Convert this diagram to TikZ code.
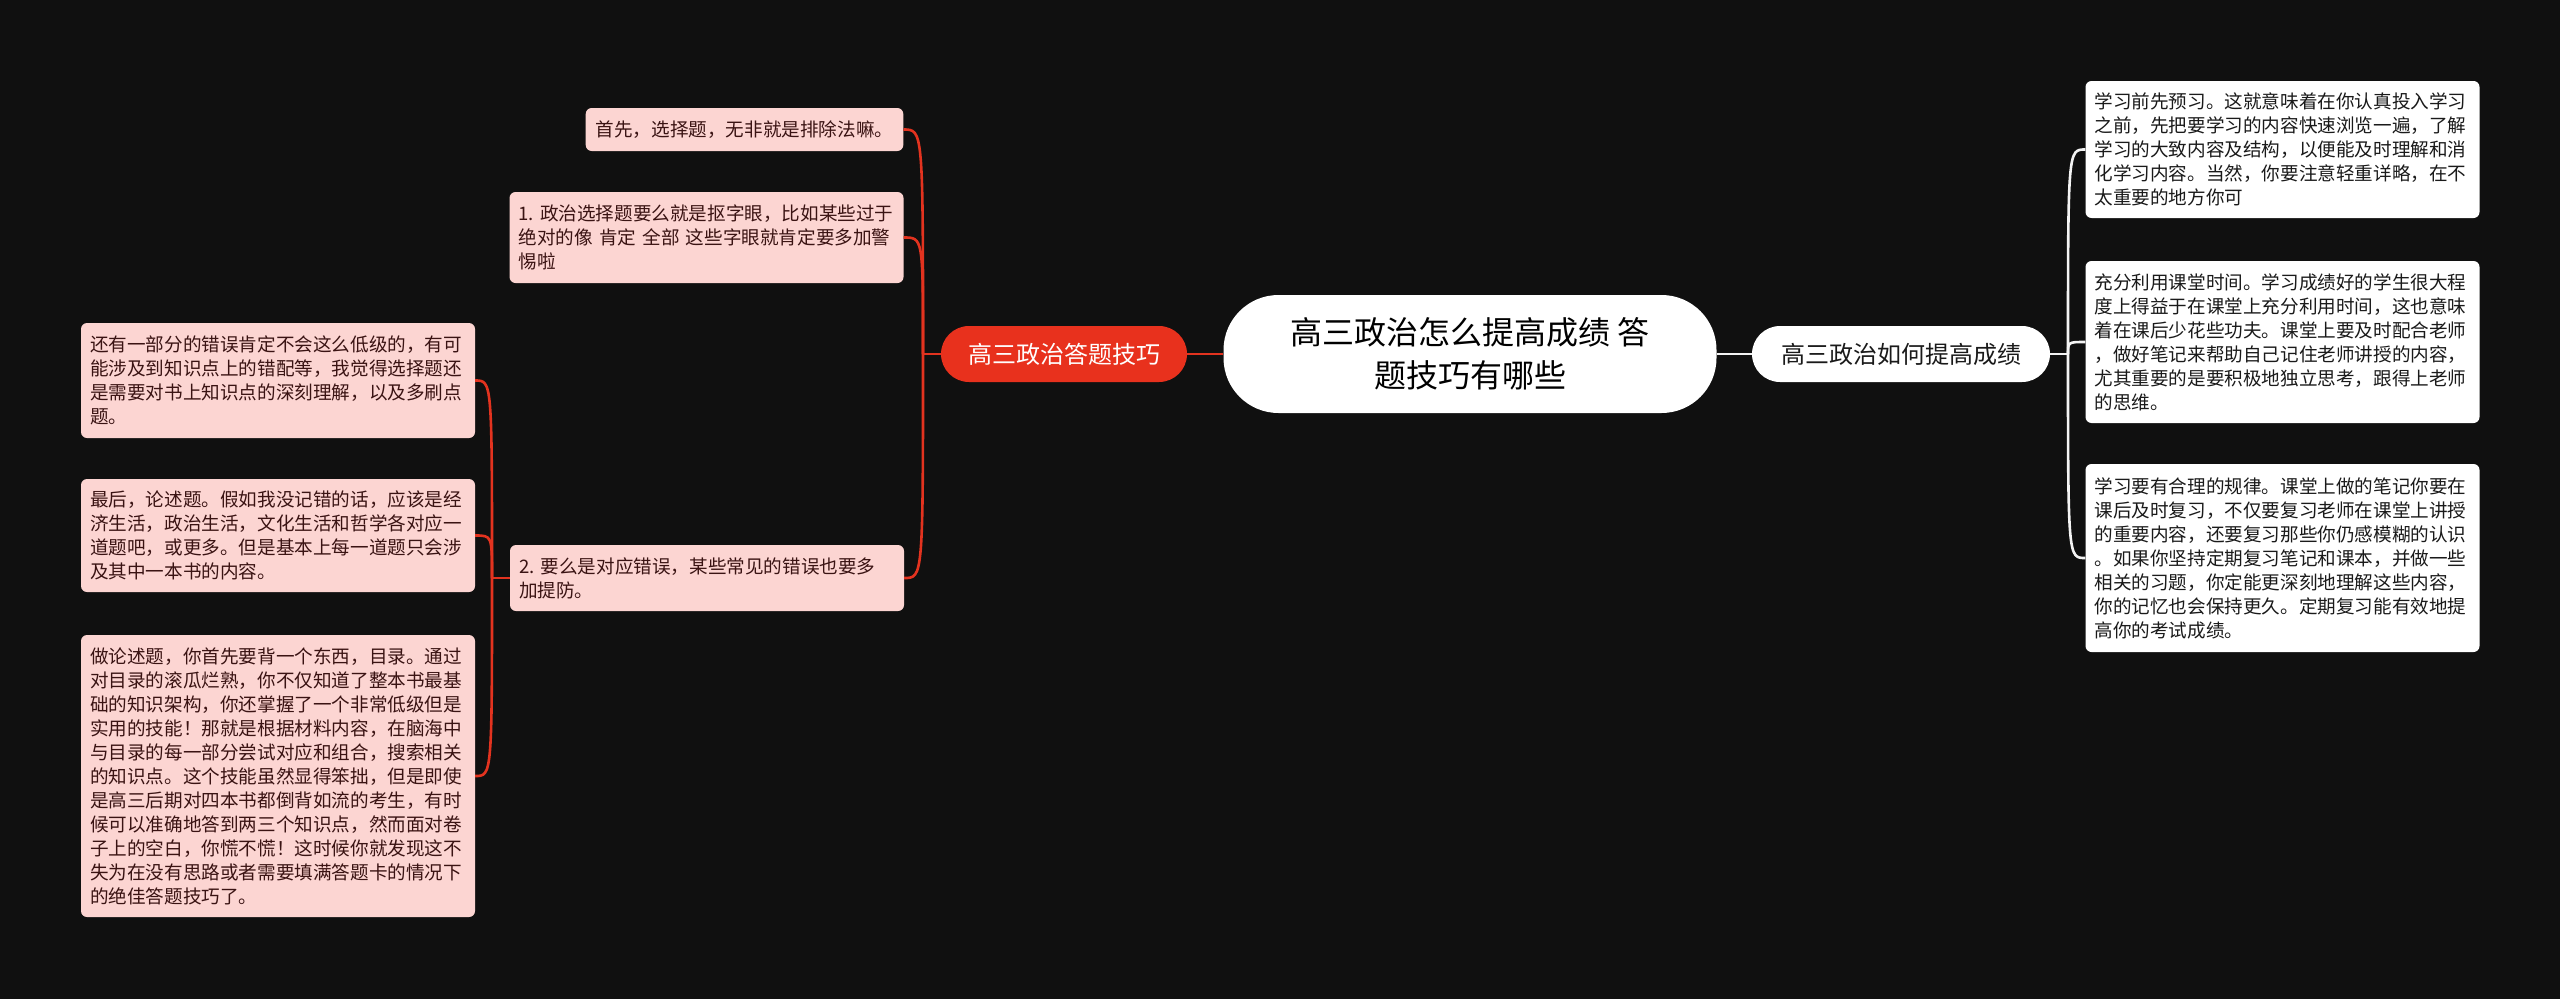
\documentclass[tikz,border=0pt]{standalone}
\usepackage{fontspec}
\setmainfont{Noto Sans CJK SC}
\frenchspacing
\definecolor{bg}{HTML}{101010}
\definecolor{redmain}{HTML}{E8311D}
\definecolor{redline}{HTML}{E3331F}
\definecolor{pinkfill}{HTML}{FCD5D2}
\definecolor{maroon}{HTML}{3A1313}
\definecolor{whiteline}{HTML}{F4F4F4}
\definecolor{darktext}{HTML}{1A1A1A}
\begin{document}
\begin{tikzpicture}[x=1pt,y=-1pt,
  leafbase/.style={inner xsep=9pt, inner ysep=0pt, rounded corners=6pt,
    font=\fontsize{18.6}{24}\selectfont},
  leafL/.style={leafbase, fill=pinkfill, text=maroon, text width=376pt, align=left},
  leafLone/.style={leafbase, fill=pinkfill, text=maroon, inner xsep=10pt},
  leafR/.style={leafbase, fill=white, text=darktext, text width=376pt, align=left},
  rootnode/.style={fill=white, text=black, rounded corners=55pt, align=center,
    minimum width=493pt, minimum height=118pt, inner sep=0pt,
    font=\fontsize{32}{43}\selectfont},
  redtopic/.style={fill=redmain, text=white, rounded corners=28pt,
    minimum width=246pt, minimum height=56pt, inner sep=0pt,
    font=\fontsize{24}{30}\selectfont},
  whitetopic/.style={fill=white, text=darktext, rounded corners=28pt,
    minimum width=298pt, minimum height=56pt, inner sep=0pt,
    font=\fontsize{24}{30}\selectfont},
  redconn/.style={draw=redline, line width=2.6pt},
  whiteconn/.style={draw=whiteline, line width=2.6pt}
]
\fill[bg] (0,0) rectangle (2560,999);
\useasboundingbox (0,0) rectangle (2560,999);

% main nodes
\node[rootnode] (c) at (1470,354) {高三政治怎么提高成绩 答\\题技巧有哪些};
\node[redtopic] (a) at (1064,354) {高三政治答题技巧};
\node[whitetopic] (b) at (1901,354) {高三政治如何提高成绩};

% left first-level leaves
\node[leafLone, minimum height=43pt] (l1) at (744.5,129.5) {首先，选择题，无非就是排除法嘛。};
\node[leafL, minimum height=91pt] (l2) at (706.5,237.5) {1. 政治选择题要么就是抠字眼，比如某些过于\\绝对的像 肯定 全部 这些字眼就肯定要多加警\\惕啦};
\node[leafL, minimum height=66pt] (l3) at (707,578) {2. 要么是对应错误，某些常见的错误也要多\\加提防。};

% left second-level leaves
\node[leafL, minimum height=115pt] (ll1) at (278,380.5) {还有一部分的错误肯定不会这么低级的，有可\\能涉及到知识点上的错配等，我觉得选择题还\\是需要对书上知识点的深刻理解，以及多刷点\\题。};
\node[leafL, minimum height=113pt] (ll2) at (278,535.5) {最后，论述题。假如我没记错的话，应该是经\\济生活，政治生活，文化生活和哲学各对应一\\道题吧，或更多。但是基本上每一道题只会涉\\及其中一本书的内容。};
\node[leafL, minimum height=282pt] (ll3) at (278,776) {做论述题，你首先要背一个东西，目录。通过\\对目录的滚瓜烂熟，你不仅知道了整本书最基\\础的知识架构，你还掌握了一个非常低级但是\\实用的技能！那就是根据材料内容，在脑海中\\与目录的每一部分尝试对应和组合，搜索相关\\的知识点。这个技能虽然显得笨拙，但是即使\\是高三后期对四本书都倒背如流的考生，有时\\候可以准确地答到两三个知识点，然而面对卷\\子上的空白，你慌不慌！这时候你就发现这不\\失为在没有思路或者需要填满答题卡的情况下\\的绝佳答题技巧了。};

% right leaves
\node[leafR, minimum height=137pt] (r1) at (2282.5,149.5) {学习前先预习。这就意味着在你认真投入学习\\之前，先把要学习的内容快速浏览一遍，了解\\学习的大致内容及结构，以便能及时理解和消\\化学习内容。当然，你要注意轻重详略，在不\\太重要的地方你可};
\node[leafR, minimum height=162pt] (r2) at (2282.5,342) {充分利用课堂时间。学习成绩好的学生很大程\\度上得益于在课堂上充分利用时间，这也意味\\着在课后少花些功夫。课堂上要及时配合老师\\，做好笔记来帮助自己记住老师讲授的内容，\\尤其重要的是要积极地独立思考，跟得上老师\\的思维。};
\node[leafR, minimum height=188pt] (r3) at (2282.5,558) {学习要有合理的规律。课堂上做的笔记你要在\\课后及时复习，不仅要复习老师在课堂上讲授\\的重要内容，还要复习那些你仍感模糊的认识\\。如果你坚持定期复习笔记和课本，并做一些\\相关的习题，你定能更深刻地理解这些内容，\\你的记忆也会保持更久。定期复习能有效地提\\高你的考试成绩。};

% junctions
\coordinate (ja) at (923,354);
\coordinate (jb) at (492,578);
\coordinate (jc) at (2068,354);

% connectors
\draw[redconn] (c.west) -- (a.east);
\draw[whiteconn] (c.east) -- (b.west);

\draw[redconn] (a.west) -- (ja);
\foreach \t in {l1,l2,l3}
  \draw[redconn] (ja) .. controls (ja |- \t.east) and (ja |- \t.east) .. (\t.east);

\draw[redconn] (l3.west) -- (jb);
\foreach \t in {ll1,ll2,ll3}
  \draw[redconn] (jb) .. controls (jb |- \t.east) and (jb |- \t.east) .. (\t.east);

\draw[whiteconn] (b.east) -- (jc);
\foreach \t in {r1,r2,r3}
  \draw[whiteconn] (jc) .. controls (jc |- \t.west) and (jc |- \t.west) .. (\t.west);
\end{tikzpicture}
\end{document}
